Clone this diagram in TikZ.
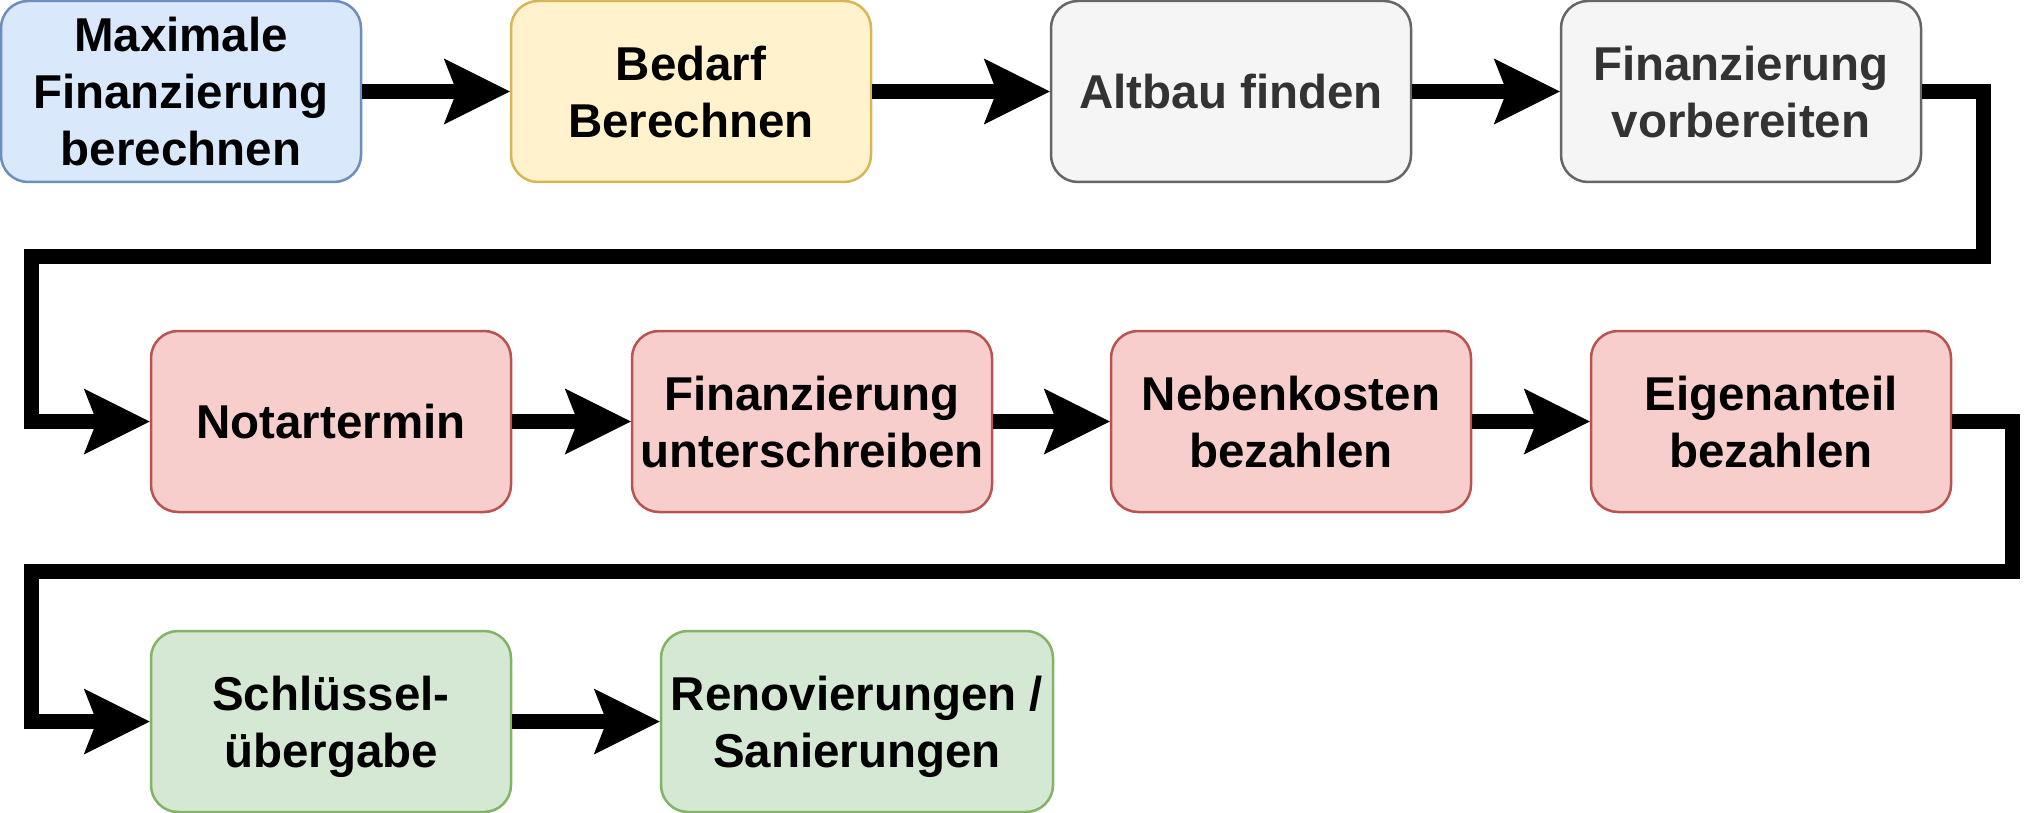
\documentclass[tikz,border=0pt]{standalone}
\usepackage{fontspec}
\setmainfont{Liberation Sans}
\usetikzlibrary{arrows.meta}

\definecolor{blueFill}{HTML}{DAE8FC}
\definecolor{blueLine}{HTML}{6C8EBF}
\definecolor{yellowFill}{HTML}{FFF2CC}
\definecolor{yellowLine}{HTML}{D6B656}
\definecolor{grayFill}{HTML}{F5F5F5}
\definecolor{grayLine}{HTML}{666666}
\definecolor{grayText}{HTML}{333333}
\definecolor{redFill}{HTML}{F8CECC}
\definecolor{redLine}{HTML}{B85450}
\definecolor{greenFill}{HTML}{D5E8D4}
\definecolor{greenLine}{HTML}{82B366}

\begin{document}
\begin{tikzpicture}[x=1pt,y=-1pt,
  box/.style={draw, rounded corners=27pt, line width=2.5pt, minimum width=360pt,
    minimum height=181pt, inner sep=0pt, align=center, text depth=0pt,
    font=\fontsize{47.5}{57}\selectfont\bfseries},
  flow/.style={line width=14.7pt, line join=miter,
    -{Stealth[length=66pt,width=66pt,inset=13pt,line width=0pt]}}]
\useasboundingbox (0,0) rectangle (2043,813);

\node[box, fill=blueFill, draw=blueLine] (1) at (181,91.5) {Maximale\\Finanzierung\\berechnen};
\node[box, fill=yellowFill, draw=yellowLine] (2) at (691,91.5) {Bedarf\\Berechnen};
\node[box, fill=grayFill, draw=grayLine, text=grayText] (3) at (1231,91.5) {Altbau finden};
\node[box, fill=grayFill, draw=grayLine, text=grayText] (4) at (1741,91.5) {Finanzierung\\vorbereiten};
\node[box, fill=redFill, draw=redLine] (5) at (331,421.5) {Notartermin};
\node[box, fill=redFill, draw=redLine] (6) at (812,421.5) {Finanzierung\\unterschreiben};
\node[box, fill=redFill, draw=redLine] (7) at (1291,421.5) {Nebenkosten\\bezahlen};
\node[box, fill=redFill, draw=redLine] (8) at (1771,421.5) {Eigenanteil\\bezahlen};
\node[box, fill=greenFill, draw=greenLine] (9) at (331,721.5) {Schlüssel-\\übergabe};
\node[box, fill=greenFill, draw=greenLine, minimum width=392pt] (10) at (857,721.5) {Renovierungen /\\Sanierungen};

\path[draw,flow] (1) -- (2);
\path[draw,flow] (2) -- (3);
\path[draw,flow] (3) -- (4);
\path[draw,flow] (4.east) -- ++(61,0) |- (31.7,256.5) |- (5.west);
\path[draw,flow] (5) -- (6);
\path[draw,flow] (6) -- (7);
\path[draw,flow] (7) -- (8);
\path[draw,flow] (8.east) -- ++(60,0) |- (31.7,571.5) |- (9.west);
\path[draw,flow] (9) -- (10);
\end{tikzpicture}
\end{document}
